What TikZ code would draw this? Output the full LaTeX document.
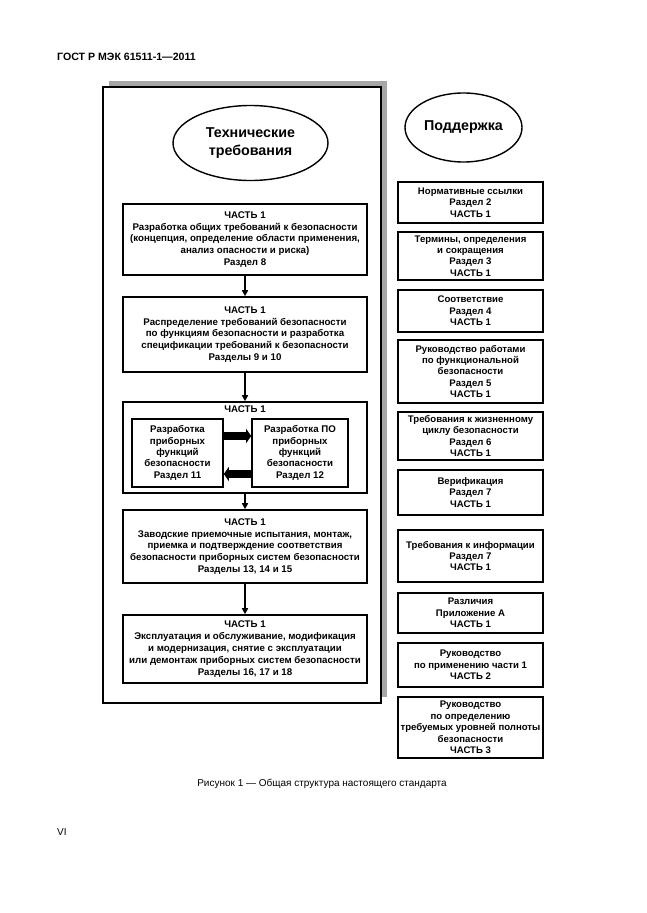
\documentclass[tikz,border=0pt]{standalone}
\usepackage{fontspec}
\setmainfont{Liberation Sans}
\usetikzlibrary{arrows.meta,shapes.geometric}
\begin{document}
\begin{tikzpicture}[x=1pt,y=-1pt,
  box/.style={draw, line width=1.6pt, align=center, inner sep=0pt,
    font=\bfseries\fontsize{9.7}{11.8}\selectfont},
  lbox/.style={box, minimum width=244pt},
  rbox/.style={box, minimum width=145pt, font=\bfseries\fontsize{9.6}{11.4}\selectfont},
  ibox/.style={box, minimum height=68pt, font=\bfseries\fontsize{9.7}{11.4}\selectfont},
  oval/.style={draw, ellipse, line width=1.4pt, inner sep=0pt, align=center,
    font=\bfseries\fontsize{14.3}{18}\selectfont},
  conn/.style={line width=1.8pt, -{Triangle[length=6pt,width=6pt]}},
  bigarrow/.style={line width=8pt, -{Triangle[length=5pt,width=14pt]}},
  plain/.style={inner sep=0pt}]
\useasboundingbox (0,0) rectangle (646,913);

% header
\node[plain, anchor=west, font=\bfseries\fontsize{10.6}{12}\selectfont] (hdr) at (57,57) {ГОСТ Р МЭК 61511-1—2011};

% frame with shadow
\node[plain, fill=black!35, minimum width=278pt, minimum height=616pt] (shadow) at (248,389) {};
\node[plain, draw, line width=2pt, fill=white, minimum width=278pt, minimum height=616pt] (frame) at (242,395) {};

% left column
\node[oval, minimum width=155pt, minimum height=75pt] (e1) at (250.5,143) {Технические\\требования};

\node[lbox, minimum height=71pt] (b1) at (245,239.5) {ЧАСТЬ 1\\Разработка общих требований к безопасности\\(концепция, определение области применения,\\анализ опасности и риска)\\Раздел 8};
\node[lbox, minimum height=75pt] (b2) at (245,334.5) {ЧАСТЬ 1\\Распределение требований безопасности\\по функциям безопасности и разработка\\спецификации требований к безопасности\\Разделы 9 и 10};
\node[lbox, minimum height=91pt] (b3) at (245,447.5) {};
\node[plain, font=\bfseries\fontsize{9.7}{11.8}\selectfont] (b3t) at (245,409.5) {ЧАСТЬ 1};
\node[ibox, minimum width=91pt] (il) at (177.5,453) {Разработка\\приборных\\функций\\безопасности\\Раздел 11};
\node[ibox, minimum width=96pt] (ir) at (300,453) {Разработка ПО\\приборных\\функций\\безопасности\\Раздел 12};
\node[lbox, minimum height=73pt] (b4) at (245,546.5) {ЧАСТЬ 1\\Заводские приемочные испытания, монтаж,\\приемка и подтверждение соответствия\\безопасности приборных систем безопасности\\Разделы 13, 14 и 15};
\node[lbox, minimum height=68pt] (b5) at (245,649) {ЧАСТЬ 1\\Эксплуатация и обслуживание, модификация\\и модернизация, снятие с эксплуатации\\или демонтаж приборных систем безопасности\\Разделы 16, 17 и 18};

\draw[conn] (b1) -- (b2);
\draw[conn] (b2) -- (b3);
\draw[conn] (b3) -- (b4);
\draw[conn] (b4) -- (b5);
\draw[bigarrow] ([yshift=17pt]il.east) -- ([yshift=17pt]ir.west);
\draw[bigarrow] ([yshift=-21pt]ir.west) -- ([yshift=-21pt]il.east);

% right column
\node[oval, minimum width=117pt, minimum height=69pt] (e2) at (463.5,127.5) {Поддержка};

\node[rbox, minimum height=41pt] (r1) at (470.5,202.5) {Нормативные ссылки\\Раздел 2\\ЧАСТЬ 1};
\node[rbox, minimum height=48pt] (r2) at (470.5,256) {Термины, определения\\и сокращения\\Раздел 3\\ЧАСТЬ 1};
\node[rbox, minimum height=42pt] (r3) at (470.5,311) {Соответствие\\Раздел 4\\ЧАСТЬ 1};
\node[rbox, minimum height=63pt] (r4) at (470.5,371.5) {Руководство работами\\по функциональной\\безопасности\\Раздел 5\\ЧАСТЬ 1};
\node[rbox, minimum height=48pt] (r5) at (470.5,436) {Требования к жизненному\\циклу безопасности\\Раздел 6\\ЧАСТЬ 1};
\node[rbox, minimum height=45pt] (r6) at (470.5,492.5) {Верификация\\Раздел 7\\ЧАСТЬ 1};
\node[rbox, minimum height=52pt] (r7) at (470.5,556) {Требования к информации\\Раздел 7\\ЧАСТЬ 1};
\node[rbox, minimum height=40pt] (r8) at (470.5,613) {Различия\\Приложение А\\ЧАСТЬ 1};
\node[rbox, minimum height=44pt] (r9) at (470.5,665) {Руководство\\по применению части 1\\ЧАСТЬ 2};
\node[rbox, minimum height=61pt] (r10) at (470.5,727.5) {Руководство\\по определению\\требуемых уровней полноты\\безопасности\\ЧАСТЬ 3};

% caption and page number
\node[plain, font=\fontsize{10}{12}\selectfont] (cap) at (322,784) {Рисунок 1 — Общая структура настоящего стандарта};
\node[plain, anchor=west, font=\fontsize{10}{12}\selectfont] (pg) at (57,832) {VI};
\end{tikzpicture}
\end{document}
